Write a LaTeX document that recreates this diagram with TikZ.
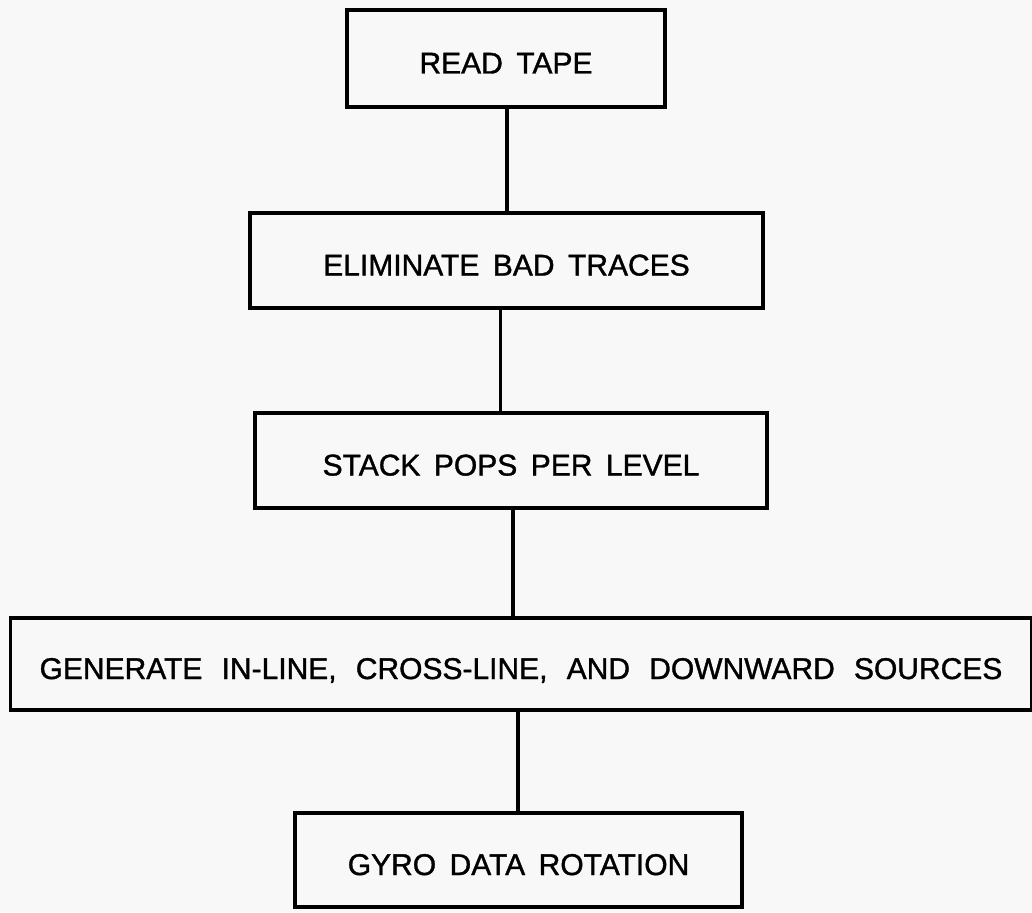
\documentclass[tikz,border=0pt]{standalone}
\usepackage{fontspec}
\setmainfont{Liberation Sans}
\newfontfamily\heavyfont[FakeBold=1.2]{Liberation Sans}
\definecolor{paper}{RGB}{248,248,248}
\newcommand\boxfont{\heavyfont\fontsize{30}{36}\selectfont\spaceskip=0.45em plus 0.1em\relax}
\newcommand\widefont{\heavyfont\fontsize{30}{36}\selectfont\spaceskip=0.64em plus 0.1em\relax}
\tikzset{
  flowbox/.style={draw=black, line width=3.6pt, rectangle, inner sep=0pt,
    text height=30pt, text depth=0pt, font={\boxfont}},
  link/.style={draw=black, line width=3.6pt},
}
\begin{document}
\begin{tikzpicture}[x=1pt,y=-1pt]
\fill[paper] (0,0) rectangle (1032,912);
\useasboundingbox (0,0) rectangle (1032,912);
\node[flowbox, minimum width=318pt, minimum height=97pt] (b1) at (506,58.5) {READ TAPE};
\node[flowbox, minimum width=513pt, minimum height=95pt] (b2) at (506.5,260.5) {ELIMINATE BAD TRACES};
\node[flowbox, minimum width=512pt, minimum height=95pt] (b3) at (511,460.5) {STACK POPS PER LEVEL};
\node[flowbox, minimum width=1021pt, minimum height=92pt, font={\widefont}] (b4) at (521,664) {GENERATE IN-LINE, CROSS-LINE, AND DOWNWARD SOURCES};
\node[flowbox, minimum width=447pt, minimum height=94pt] (b5) at (518.5,860) {GYRO DATA ROTATION};
\draw[link] ([xshift=1pt]b1.south) -- ([xshift=1pt]b1.south |- b2.north);
\draw[link] ([xshift=-6pt]b2.south) -- ([xshift=-6pt]b2.south |- b3.north);
\draw[link] ([xshift=2pt]b3.south) -- ([xshift=2pt]b3.south |- b4.north);
\draw[link] ([xshift=-3pt]b4.south) -- ([xshift=-3pt]b4.south |- b5.north);
\end{tikzpicture}
\end{document}
